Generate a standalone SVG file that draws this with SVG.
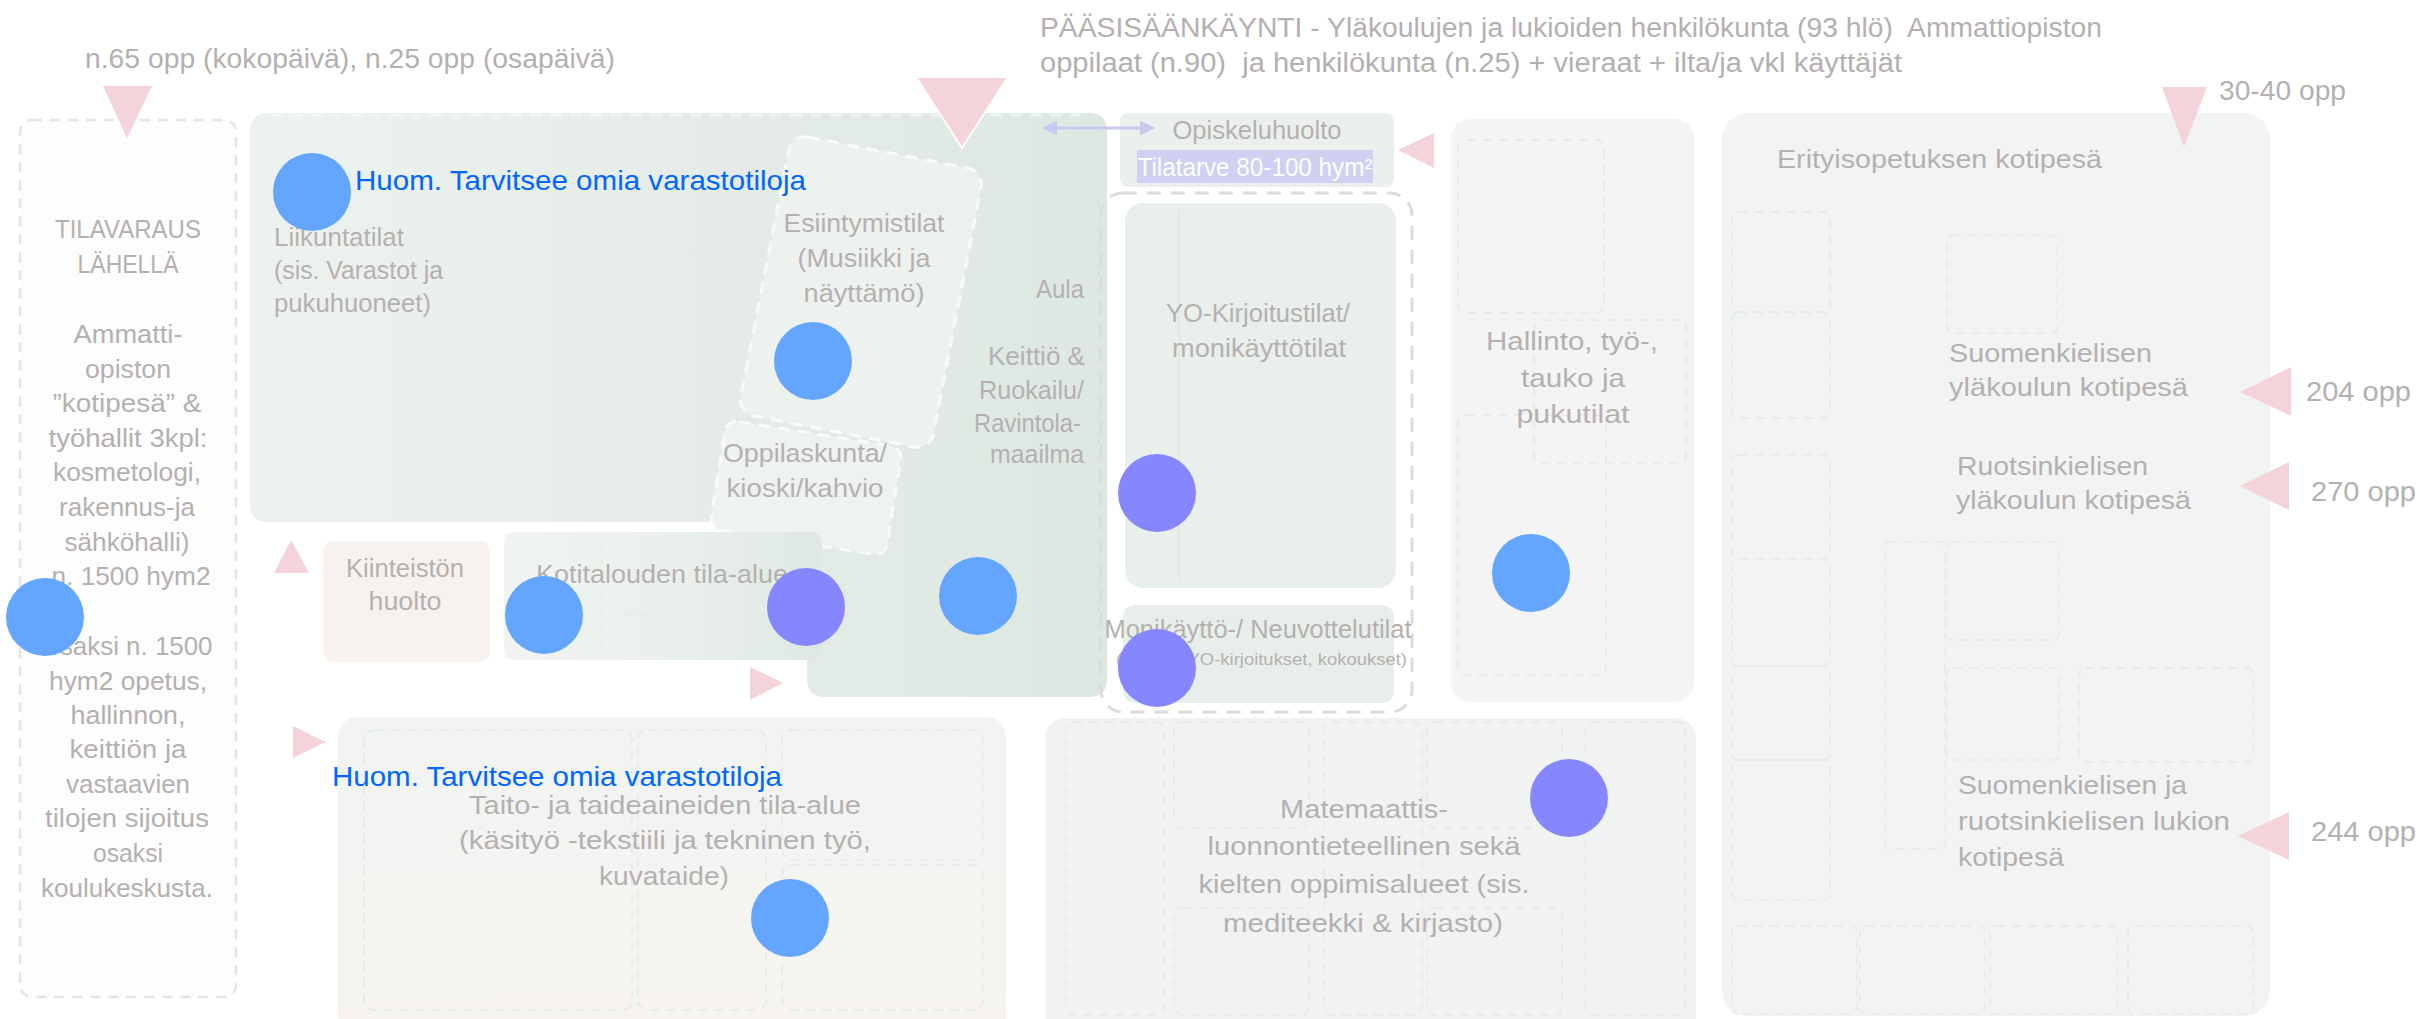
<svg xmlns="http://www.w3.org/2000/svg" width="2420" height="1019" viewBox="0 0 2420 1019">
<defs>
<style>
.t{font-family:"Liberation Sans",Arial,sans-serif;font-size:25px;fill:#b5b0b0}
.tl{font-size:27px}
.m{text-anchor:middle}
.e{text-anchor:end}
.pre{white-space:pre}
.blue{font-family:"Liberation Sans",Arial,sans-serif;font-size:28px;fill:#0066ff}
.db{fill:#64a6ff}
.dp{fill:#8686ff}
.tri{fill:#f5d3db}
.sub{fill:none;stroke:#e7ebea;stroke-width:2;stroke-dasharray:9 7}
.wd{stroke:#f9fbfa;stroke-width:3;stroke-dasharray:12 8}
</style>
<linearGradient id="gGreen" gradientUnits="userSpaceOnUse" x1="250" y1="0" x2="1107" y2="0">
<stop offset="0" stop-color="#edf2ef"/><stop offset="0.55" stop-color="#e5ece8"/><stop offset="1" stop-color="#dde8e2"/>
</linearGradient>
<linearGradient id="gKoti" gradientUnits="userSpaceOnUse" x1="504" y1="0" x2="812" y2="0">
<stop offset="0" stop-color="#f1f4f2"/><stop offset="0.6" stop-color="#e9efeb"/><stop offset="1" stop-color="#dfe9e3"/>
</linearGradient>
<linearGradient id="gTaito" x1="0" y1="0" x2="0" y2="1">
<stop offset="0" stop-color="#f1f4f3"/><stop offset="1" stop-color="#f7f4f0"/>
</linearGradient>
<marker id="ah" viewBox="0 0 10 10" refX="8" refY="5" markerWidth="5" markerHeight="5" orient="auto-start-reverse">
<path d="M0,0 L10,5 L0,10 Z" fill="#c9c9f0"/>
</marker>
</defs>
<rect width="2420" height="1019" fill="#ffffff"/>

<g id="top-texts">
<text class="t tl" x="85" y="68" textLength="530" lengthAdjust="spacingAndGlyphs">n.65 opp (kokopäivä), n.25 opp (osapäivä)</text>
<text class="t tl pre" x="1040" y="37" textLength="1062" lengthAdjust="spacingAndGlyphs">PÄÄSISÄÄNKÄYNTI - Yläkoulujen ja lukioiden henkilökunta (93 hlö)  Ammattiopiston</text>
<text class="t tl pre" x="1040" y="72" textLength="862" lengthAdjust="spacingAndGlyphs">oppilaat (n.90)  ja henkilökunta (n.25) + vieraat + ilta/ja vkl käyttäjät</text>
<text class="t tl" x="2219" y="100" textLength="127" lengthAdjust="spacingAndGlyphs">30-40 opp</text>
<text class="t tl" x="2306" y="401" textLength="105" lengthAdjust="spacingAndGlyphs">204 opp</text>
<text class="t tl" x="2311" y="501" textLength="105" lengthAdjust="spacingAndGlyphs">270 opp</text>
<text class="t tl" x="2311" y="841" textLength="105" lengthAdjust="spacingAndGlyphs">244 opp</text>
</g>

<g id="tilavaraus">
<rect x="20" y="120" width="216" height="877" rx="12" fill="#fdfdfd" stroke="#e4e4e4" stroke-width="2.5" stroke-dasharray="10 8"/>
<text class="t m" x="128" y="238" textLength="146" lengthAdjust="spacingAndGlyphs">TILAVARAUS</text>
<text class="t m" x="128" y="273" textLength="101" lengthAdjust="spacingAndGlyphs">LÄHELLÄ</text>
<text class="t m" x="128" y="343" textLength="109" lengthAdjust="spacingAndGlyphs">Ammatti-</text>
<text class="t m" x="128" y="378" textLength="86" lengthAdjust="spacingAndGlyphs">opiston</text>
<text class="t m" x="127" y="412" textLength="149" lengthAdjust="spacingAndGlyphs">”kotipesä” &amp;</text>
<text class="t m" x="128" y="447" textLength="159" lengthAdjust="spacingAndGlyphs">työhallit 3kpl:</text>
<text class="t m" x="127" y="481" textLength="148" lengthAdjust="spacingAndGlyphs">kosmetologi,</text>
<text class="t m" x="127" y="516" textLength="136" lengthAdjust="spacingAndGlyphs">rakennus-ja</text>
<text class="t m" x="127" y="551" textLength="125" lengthAdjust="spacingAndGlyphs">sähköhalli)</text>
<text class="t m" x="131" y="585" textLength="159" lengthAdjust="spacingAndGlyphs">n. 1500 hym2</text>
<text class="t m" x="129" y="655" textLength="167" lengthAdjust="spacingAndGlyphs">osaksi n. 1500</text>
<text class="t m" x="128" y="690" textLength="158" lengthAdjust="spacingAndGlyphs">hym2 opetus,</text>
<text class="t m" x="128" y="724" textLength="115" lengthAdjust="spacingAndGlyphs">hallinnon,</text>
<text class="t m" x="128" y="758" textLength="117" lengthAdjust="spacingAndGlyphs">keittiön ja</text>
<text class="t m" x="128" y="793" textLength="124" lengthAdjust="spacingAndGlyphs">vastaavien</text>
<text class="t m" x="127" y="827" textLength="164" lengthAdjust="spacingAndGlyphs">tilojen sijoitus</text>
<text class="t m" x="128" y="862" textLength="70" lengthAdjust="spacingAndGlyphs">osaksi</text>
<text class="t m" x="127" y="897" textLength="172" lengthAdjust="spacingAndGlyphs">koulukeskusta.</text>
</g>

<g id="liikuntatilat-aula">
<path d="M268,113 H1089 Q1107,113 1107,131 V679 Q1107,697 1089,697 H825 Q807,697 807,679 V522 H268 Q250,522 250,504 V131 Q250,113 268,113 Z" fill="url(#gGreen)"/>
<path d="M270,115 H1080" class="wd" fill="none" opacity="0.6"/>
<path d="M1099,200 V690" fill="none" stroke="#d9e2dd" stroke-width="2" stroke-dasharray="12 9"/>
<text class="t" x="274" y="246" textLength="130" lengthAdjust="spacingAndGlyphs">Liikuntatilat</text>
<text class="t" x="274" y="279" textLength="169" lengthAdjust="spacingAndGlyphs">(sis. Varastot ja</text>
<text class="t" x="274" y="312" textLength="157" lengthAdjust="spacingAndGlyphs">pukuhuoneet)</text>
<text class="t e" x="1084" y="298" textLength="48" lengthAdjust="spacingAndGlyphs">Aula</text>
<text class="t e" x="1085" y="365" textLength="97" lengthAdjust="spacingAndGlyphs">Keittiö &amp;</text>
<text class="t e" x="1084" y="399" textLength="105" lengthAdjust="spacingAndGlyphs">Ruokailu/</text>
<text class="t e" x="1081" y="432" textLength="107" lengthAdjust="spacingAndGlyphs">Ravintola-</text>
<text class="t e" x="1084" y="463" textLength="94" lengthAdjust="spacingAndGlyphs">maailma</text>
</g>

<g id="esiintymistilat">
<rect x="763" y="150" width="196" height="284" rx="16" transform="rotate(11 861 292)" fill="#edf2ef" class="wd"/>
<text class="t m" x="864" y="232" textLength="161" lengthAdjust="spacingAndGlyphs">Esiintymistilat</text>
<text class="t m" x="864" y="267" textLength="133" lengthAdjust="spacingAndGlyphs">(Musiikki ja</text>
<text class="t m" x="864" y="302" textLength="121" lengthAdjust="spacingAndGlyphs">näyttämö)</text>
</g>

<g id="oppilaskunta">
<rect x="717" y="433" width="178" height="110" rx="12" transform="rotate(9 806 488)" fill="#eef2f0" class="wd"/>
<text class="t m" x="805" y="462" textLength="164" lengthAdjust="spacingAndGlyphs">Oppilaskunta/</text>
<text class="t m" x="805" y="497" textLength="157" lengthAdjust="spacingAndGlyphs">kioski/kahvio</text>
</g>

<g id="kiinteiston-huolto">
<rect x="323" y="541" width="167" height="121" rx="10" fill="#f8f2ef"/>
<text class="t m" x="405" y="577" textLength="118" lengthAdjust="spacingAndGlyphs">Kiinteistön</text>
<text class="t m" x="405" y="610" textLength="73" lengthAdjust="spacingAndGlyphs">huolto</text>
</g>

<g id="kotitalous">
<rect x="504" y="532" width="318" height="128" rx="10" fill="url(#gKoti)"/>
<path d="M602,540 V652 M749,540 V652 M620,615 H749" class="sub"/>
<text class="t" x="536" y="583" textLength="252" lengthAdjust="spacingAndGlyphs">Kotitalouden tila-alue</text>
</g>

<g id="opiskeluhuolto">
<rect x="1120" y="113" width="274" height="74" rx="8" fill="#ebf0ed"/>
<text class="t m" x="1257" y="139" textLength="169" lengthAdjust="spacingAndGlyphs">Opiskeluhuolto</text>
<rect x="1137" y="150" width="236" height="33" fill="#cfd0f2"/>
<text class="t m" x="1255" y="176" textLength="235" lengthAdjust="spacingAndGlyphs" style="fill:#ffffff">Tilatarve 80-100 hym²</text>
</g>

<g id="yo-kirjoitustilat">
<rect x="1101" y="193" width="311" height="519" rx="22" fill="none" stroke="#dcdcdc" stroke-width="3" stroke-dasharray="14 10"/>
<rect x="1125" y="203" width="271" height="385" rx="18" fill="#e9efeb"/>
<path d="M1179,210 V580" fill="none" stroke="#e2e9e5" stroke-width="2"/>
<text class="t m" x="1258" y="322" textLength="184" lengthAdjust="spacingAndGlyphs">YO-Kirjoitustilat/</text>
<text class="t m" x="1259" y="357" textLength="174" lengthAdjust="spacingAndGlyphs">monikäyttötilat</text>
</g>

<g id="monikaytto">
<rect x="1123" y="605" width="271" height="98" rx="12" fill="#e8eeea"/>
<text class="t m" x="1258" y="638" textLength="307" lengthAdjust="spacingAndGlyphs">Monikäyttö-/ Neuvottelutilat</text>
<text class="t" x="1116" y="665" textLength="291" lengthAdjust="spacingAndGlyphs" style="font-size:16px">(opetus, YO-kirjoitukset, kokoukset)</text>
</g>

<g id="hallinto">
<rect x="1451" y="119" width="243" height="583" rx="20" fill="#f3f4f3"/>
<rect x="1458" y="140" width="146" height="173" rx="8" class="sub"/>
<rect x="1534" y="320" width="152" height="143" rx="8" class="sub"/>
<rect x="1458" y="415" width="148" height="260" rx="8" class="sub"/>
<text class="t m" x="1572" y="350" textLength="172" lengthAdjust="spacingAndGlyphs">Hallinto, työ-,</text>
<text class="t m" x="1573" y="387" textLength="104" lengthAdjust="spacingAndGlyphs">tauko ja</text>
<text class="t m" x="1573" y="423" textLength="113" lengthAdjust="spacingAndGlyphs">pukutilat</text>
</g>

<g id="erityisopetus-kotipesat">
<rect x="1722" y="113" width="548" height="903" rx="26" fill="#f2f4f4"/>
<rect x="1732" y="212" width="98" height="100" rx="6" class="sub"/>
<rect x="1732" y="313" width="98" height="105" rx="6" class="sub"/>
<rect x="1732" y="455" width="98" height="104" rx="6" class="sub"/>
<rect x="1732" y="559" width="98" height="107" rx="6" class="sub"/>
<rect x="1732" y="666" width="98" height="94" rx="6" class="sub"/>
<rect x="1732" y="760" width="98" height="140" rx="6" class="sub"/>
<rect x="1947" y="235" width="110" height="98" rx="6" class="sub"/>
<rect x="1885" y="542" width="60" height="307" rx="4" class="sub"/>
<rect x="1947" y="542" width="112" height="98" rx="6" class="sub"/>
<rect x="1947" y="668" width="112" height="92" rx="6" class="sub"/>
<rect x="2079" y="668" width="174" height="94" rx="6" class="sub"/>
<rect x="1732" y="926" width="125" height="88" rx="6" class="sub"/>
<rect x="1860" y="926" width="125" height="88" rx="6" class="sub"/>
<rect x="1990" y="926" width="127" height="88" rx="6" class="sub"/>
<rect x="2128" y="926" width="125" height="88" rx="6" class="sub"/>
<text class="t" x="1777" y="168" textLength="325" lengthAdjust="spacingAndGlyphs">Erityisopetuksen kotipesä</text>
<text class="t" x="1949" y="362" textLength="203" lengthAdjust="spacingAndGlyphs">Suomenkielisen</text>
<text class="t" x="1949" y="396" textLength="239" lengthAdjust="spacingAndGlyphs">yläkoulun kotipesä</text>
<text class="t" x="1957" y="475" textLength="191" lengthAdjust="spacingAndGlyphs">Ruotsinkielisen</text>
<text class="t" x="1956" y="509" textLength="235" lengthAdjust="spacingAndGlyphs">yläkoulun kotipesä</text>
<text class="t" x="1958" y="794" textLength="229" lengthAdjust="spacingAndGlyphs">Suomenkielisen ja</text>
<text class="t" x="1958" y="830" textLength="272" lengthAdjust="spacingAndGlyphs">ruotsinkielisen lukion</text>
<text class="t" x="1958" y="866" textLength="106" lengthAdjust="spacingAndGlyphs">kotipesä</text>
</g>

<g id="taito-taide">
<rect x="338" y="717" width="668" height="320" rx="20" fill="url(#gTaito)"/>
<rect x="364" y="730" width="268" height="280" rx="10" class="sub"/>
<rect x="638" y="730" width="128" height="280" rx="10" class="sub"/>
<rect x="782" y="730" width="201" height="130" rx="10" class="sub"/>
<rect x="782" y="865" width="201" height="145" rx="10" class="sub"/>
<text class="t m" x="665" y="814" textLength="392" lengthAdjust="spacingAndGlyphs">Taito- ja taideaineiden tila-alue</text>
<text class="t m" x="665" y="849" textLength="412" lengthAdjust="spacingAndGlyphs">(käsityö -tekstiili ja tekninen työ,</text>
<text class="t m" x="664" y="885" textLength="130" lengthAdjust="spacingAndGlyphs">kuvataide)</text>
</g>

<g id="matemaattis">
<rect x="1045" y="718" width="651" height="320" rx="20" fill="#f1f3f3"/>
<rect x="1066" y="722" width="98" height="293" rx="8" class="sub"/>
<rect x="1174" y="722" width="135" height="106" rx="8" class="sub"/>
<rect x="1174" y="908" width="135" height="107" rx="8" class="sub"/>
<rect x="1324" y="722" width="98" height="293" rx="8" class="sub"/>
<rect x="1427" y="722" width="135" height="106" rx="8" class="sub"/>
<rect x="1427" y="908" width="135" height="107" rx="8" class="sub"/>
<rect x="1585" y="722" width="100" height="293" rx="8" class="sub"/>
<text class="t m" x="1364" y="818" textLength="168" lengthAdjust="spacingAndGlyphs">Matemaattis-</text>
<text class="t m" x="1364" y="855" textLength="313" lengthAdjust="spacingAndGlyphs">luonnontieteellinen sekä</text>
<text class="t m" x="1364" y="893" textLength="331" lengthAdjust="spacingAndGlyphs">kielten oppimisalueet (sis.</text>
<text class="t m" x="1363" y="932" textLength="280" lengthAdjust="spacingAndGlyphs">mediteekki &amp; kirjasto)</text>
</g>

<g id="connectors">
<line x1="1045" y1="128" x2="1152" y2="128" stroke="#c9c9f0" stroke-width="3" marker-start="url(#ah)" marker-end="url(#ah)"/>
<polygon class="tri" points="103,86 152,86 127,138"/>
<polygon class="tri" points="916,77 1008,77 962,148" stroke="#ffffff" stroke-width="2"/>
<polygon class="tri" points="1434,133 1434,168 1398,150"/>
<polygon class="tri" points="2162,87 2207,87 2184,147"/>
<polygon class="tri" points="2291,367 2291,416 2240,392"/>
<polygon class="tri" points="2289,462 2289,510 2240,486"/>
<polygon class="tri" points="2289,812 2289,860 2238,836"/>
<polygon class="tri" points="274,573 309,573 291,540"/>
<polygon class="tri" points="750,667 750,700 783,683"/>
<polygon class="tri" points="293,726 293,758 326,742"/>
</g>

<g id="notes">
<text class="blue" x="355" y="190" textLength="451" lengthAdjust="spacingAndGlyphs">Huom. Tarvitsee omia varastotiloja</text>
<text class="blue" x="332" y="786" textLength="450" lengthAdjust="spacingAndGlyphs">Huom. Tarvitsee omia varastotiloja</text>
</g>

<g id="dots">
<circle class="db" cx="312" cy="192" r="39"/>
<circle class="db" cx="813" cy="361" r="39"/>
<circle class="db" cx="45" cy="617" r="39"/>
<circle class="db" cx="544" cy="615" r="39"/>
<circle class="dp" cx="806" cy="607" r="39"/>
<circle class="db" cx="978" cy="596" r="39"/>
<circle class="dp" cx="1157" cy="493" r="39"/>
<circle class="dp" cx="1157" cy="668" r="39"/>
<circle class="db" cx="1531" cy="573" r="39"/>
<circle class="dp" cx="1569" cy="798" r="39"/>
<circle class="db" cx="790" cy="918" r="39"/>
</g>
</svg>
